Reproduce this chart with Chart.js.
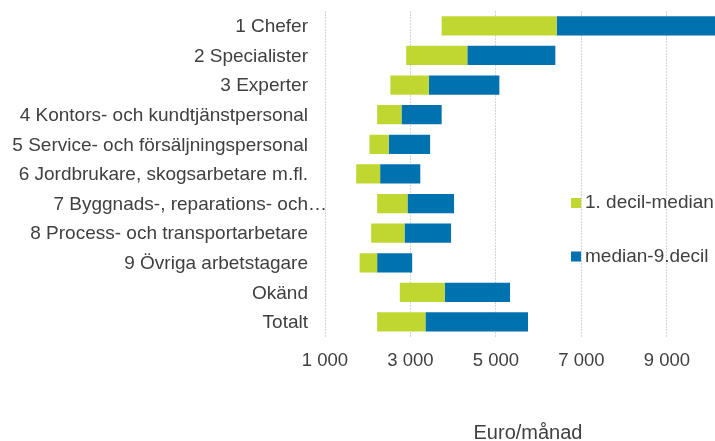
<!DOCTYPE html>
<html><head><meta charset="utf-8">
<script src="https://cdn.jsdelivr.net/npm/chart.js@4/dist/chart.umd.min.js"></script>
<style>
html,body{margin:0;padding:0;overflow:hidden;background:#fff;width:715px;height:441px}
#wrap{position:relative;width:731px;height:441px}
</style>
</head><body><div id="wrap"><canvas id="c" width="731" height="441"></canvas></div>
<script>
const categories = ['1 Chefer','2 Specialister','3 Experter','4 Kontors- och kundtjänstpersonal','5 Service- och försäljningspersonal','6 Jordbrukare, skogsarbetare m.fl.','7 Byggnads-, reparations- och…','8 Process- och transportarbetare','9 Övriga arbetstagare','Okänd','Totalt'];
const decile1 = [3730, 2900, 2530, 2220, 2040, 1730, 2220, 2080, 1810, 2750, 2220];
const median  = [6420, 4330, 3430, 2790, 2490, 2290, 2930, 2860, 2220, 3800, 3350];
const decile9 = [10300, 6390, 5080, 3730, 3460, 3230, 4020, 3950, 3040, 5330, 5750];
const seriesNames = ['1. decil-median', 'median-9.decil'];
const seriesColors = ['#c0d731', '#0072b0'];
const tickValues = [1000, 3000, 5000, 7000, 9000];
const tickLabels = ['1 000', '3 000', '5 000', '7 000', '9 000'];
const axisTitle = 'Euro/månad';

const FONT = '"Liberation Sans", Arial, sans-serif';
const TEXT = '#404040';

const labelPlugin = {
  id: 'catLabels',
  afterDraw(chart) {
    const ctx = chart.ctx, y = chart.scales.y, x0 = chart.chartArea.left - 17;
    ctx.save();
    ctx.font = '19px ' + FONT;
    ctx.fillStyle = TEXT;
    ctx.textBaseline = 'middle';
    categories.forEach((lab, i) => {
      const py = y.getPixelForValue(i) + 1;
      if (lab.endsWith('…')) {
        ctx.textAlign = 'right';
        ctx.fillText(lab.slice(0, -1), x0, py);
        ctx.textAlign = 'left';
        ctx.fillText('…', x0, py);
      } else {
        ctx.textAlign = 'right';
        ctx.fillText(lab, x0, py);
      }
    });
    // legend
    const lx = 571, ly = [203, 256.5];
    seriesNames.forEach((n, i) => {
      ctx.fillStyle = seriesColors[i];
      ctx.fillRect(lx, ly[i] - 5, 10, 10);
      ctx.fillStyle = TEXT;
      ctx.textAlign = 'left';
      ctx.fillText(n, lx + 14, ly[i]);
    });
    ctx.restore();
  }
};

new Chart(document.getElementById('c'), {
  type: 'bar',
  data: {
    labels: categories,
    datasets: [
      { label: seriesNames[0], data: decile1.map((v, i) => [v, median[i]]), backgroundColor: seriesColors[0], grouped: false, borderWidth: 0 },
      { label: seriesNames[1], data: median.map((v, i) => [v, decile9[i]]), backgroundColor: seriesColors[1], grouped: false, borderWidth: 0 }
    ]
  },
  options: {
    indexAxis: 'y',
    responsive: false,
    animation: false,
    devicePixelRatio: 1,
    barPercentage: 0.65,
    categoryPercentage: 1,
    layout: { padding: { left: 325, right: 0, top: 11, bottom: 0 } },
    plugins: { legend: { display: false }, tooltip: { enabled: false } },
    scales: {
      x: {
        type: 'linear', min: 1000, max: 10500, position: 'bottom',
        afterBuildTicks: s => { s.ticks = tickValues.map(v => ({ value: v })); },
        ticks: {
          callback: v => { const k = tickValues.indexOf(v); return k >= 0 ? tickLabels[k] : ''; },
          font: { family: FONT, size: 18.5 }, color: TEXT, padding: 13, maxRotation: 0, autoSkip: false
        },
        grid: { color: '#d4d4d4', lineWidth: 1, drawTicks: false },
        border: { display: false, dash: [2, 1] },
        title: { display: true, text: axisTitle, font: { family: FONT, size: 20, lineHeight: 0.8 }, color: TEXT, padding: { top: 40, bottom: 0 } }
      },
      y: { type: 'category', display: false }
    }
  },
  plugins: [labelPlugin]
});
</script>
</body></html>
